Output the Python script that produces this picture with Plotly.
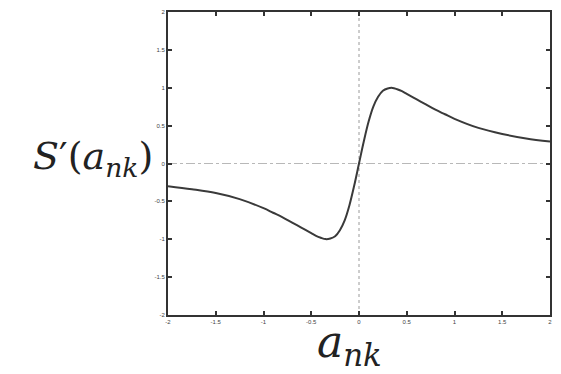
import plotly.graph_objects as go

# Values
a_vals = [-2.0, -1.75, -1.5, -1.25, -1.0, -0.9, -0.8, -0.7, -0.6, -0.5, -0.45, -0.4, -0.35, -0.3, -0.25, -0.2, -0.15,
          -0.1, -0.05, 0.0, 0.05, 0.1, 0.15, 0.2, 0.25, 0.3, 0.35, 0.4, 0.45, 0.5, 0.6, 0.7, 0.8, 0.9, 1.0,
          1.25, 1.5, 1.75, 2.0]
s_vals = [-0.30, -0.34, -0.39, -0.47, -0.59, -0.65, -0.71, -0.78, -0.85, -0.92, -0.955, -0.98, -0.998, -0.99,
          -0.96, -0.88, -0.75, -0.55, -0.29, 0.0, 0.29, 0.55, 0.75, 0.88, 0.96, 0.99, 0.998, 0.98, 0.955, 0.92,
          0.85, 0.78, 0.71, 0.65, 0.59, 0.47, 0.39, 0.33, 0.29]

x_ticks = [-2, -1.5, -1, -0.5, 0, 0.5, 1, 1.5, 2]
y_ticks = [-2, -1.5, -1, -0.5, 0, 0.5, 1, 1.5, 2]
tick_text = ["-2", "-1.5", "-1", "-0.5", "0", "0.5", "1", "1.5", "2"]

fig = go.Figure()
# zero reference lines
fig.add_trace(go.Scatter(x=[0, 0], y=[-2, 2], mode="lines",
                         line=dict(color="#9a9a9a", width=1, dash="dot"), hoverinfo="skip"))
fig.add_trace(go.Scatter(x=[-2, 2], y=[0, 0], mode="lines",
                         line=dict(color="#b8b8b8", width=1, dash="dashdot"), hoverinfo="skip"))
fig.add_trace(go.Scatter(x=a_vals, y=s_vals, mode="lines",
                         line=dict(color="#3a3a3a", width=2, shape="spline", smoothing=1.0)))

axis_common = dict(showgrid=False, zeroline=False, showline=True, linecolor="#333333", linewidth=2,
                   mirror="allticks", ticks="inside", ticklen=4, tickwidth=1.5, tickcolor="#333333",
                   tickfont=dict(size=6, color="#444444", family="Liberation Sans"))

fig.update_xaxes(range=[-2, 2], tickvals=x_ticks, ticktext=tick_text, **axis_common)
fig.update_yaxes(range=[-2, 2], tickvals=y_ticks, ticktext=tick_text, **axis_common)

fig.add_annotation(text="<i>S</i>′(<i>a</i><sub><i>nk</i></sub>)", xref="paper", yref="paper",
                   x=-0.033, y=0.515, xanchor="right", yanchor="middle", showarrow=False,
                   font=dict(family="DejaVu Serif", size=38, color="#222222"))
fig.add_annotation(text="<i>a</i><sub><i>nk</i></sub>", xref="paper", yref="paper",
                   x=0.476, y=0.004, xanchor="center", yanchor="top", showarrow=False,
                   font=dict(family="DejaVu Serif", size=44, color="#222222"))

# page body has an 8px margin, so the figure is drawn 8px smaller and offset
fig.update_layout(width=553, height=366, showlegend=False,
                  margin=dict(l=160, r=11, t=2, b=59),
                  plot_bgcolor="white", paper_bgcolor="white")

fig.write_html("out.html")
